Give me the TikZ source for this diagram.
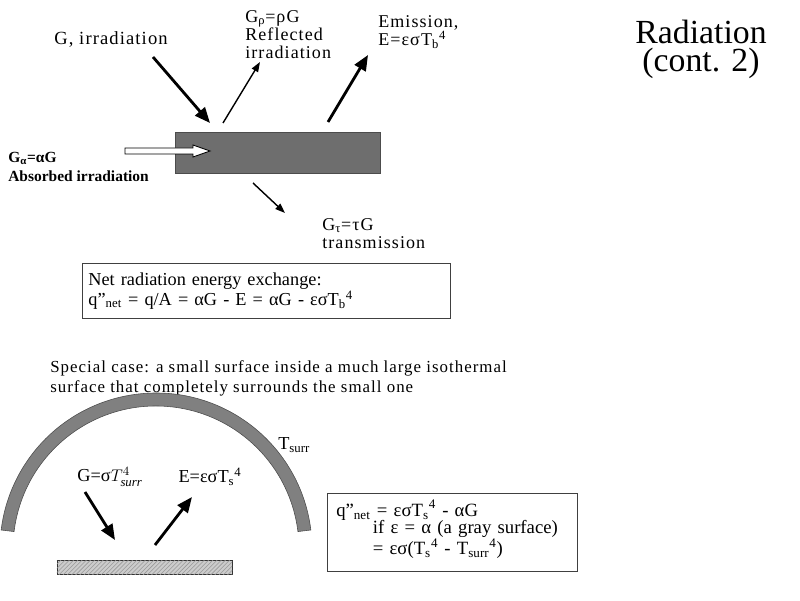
\documentclass[tikz,border=0pt]{standalone}
\usepackage{fontspec}
\setmainfont{Liberation Serif}
\newfontfamily\widefont{Liberation Serif}[LetterSpace=6]
\usetikzlibrary{arrows.meta,patterns}

\tikzset{
  txt/.style={font=\fontsize{13}{13}\selectfont, align=left, inner sep=0pt},
  widetxt/.style={txt, font=\widefont\fontsize{12.8}{12.8}\selectfont},
  boldtxt/.style={txt, font=\fontsize{11}{13.5}\selectfont\bfseries},
  bigarrow/.style={line width=2pt, -{Triangle[length=11pt,width=9pt]}},
  thinarrow/.style={line width=1pt, -{Triangle[length=7pt,width=5pt]}},
  netbox/.style={draw=black!75, line width=0.6pt},
}

\begin{document}
\begin{tikzpicture}[x=0.025cm,y=0.025cm]

  % page frame, 800 x 600
  \useasboundingbox (0,0) rectangle (800,600);

  % title
  \node (title) [font=\fontsize{24}{21}\selectfont] at (701,568) {Radiation};
  \node (cont) [font=\fontsize{24}{21}\selectfont] at (701,537) {(cont. 2)};

  % the slab
  \node (slab) [draw=black!70, fill=black!57, minimum width=5.125cm, minimum height=1.025cm,
    inner sep=0pt] at (277.5,447.5) {};

  % labels round the slab
  \node (irr) [widetxt, font=\widefont\fontsize{13.2}{13}\selectfont] at (111,561) {G, irradiation};
  \node (refl) [widetxt, anchor=north west] at (245,590)
    {G\textsubscript{ρ}=ρG\\Reflected\\irradiation};
  \node (emis) [widetxt, anchor=north west] at (378,585)
    {Emission,\\E=εσT\textsubscript{b}\textsuperscript{4}};
  \node (absb) [boldtxt, anchor=north west] at (8,448)
    {G\textsubscript{α}=αG\\Absorbed irradiation};
  \node (trans) [widetxt, anchor=north west] at (322,382)
    {G\textsubscript{τ}=τG\\transmission};

  % arrow ends
  \coordinate (irr tail) at (153,543);
  \coordinate (irr head) at (210,477);
  \coordinate (refl tail) at (223,477);
  \coordinate (refl head) at (260,538);
  \coordinate (emis tail) at (328,478);
  \coordinate (emis head) at (368,545);
  \coordinate (trans tail) at (253,417);
  \coordinate (trans head) at (285,387);

  \draw [bigarrow] (irr tail) -- (irr head);
  \draw [thinarrow] (refl tail) -- (refl head);
  \draw [bigarrow] (emis tail) -- (emis head);
  \draw [thinarrow] (trans tail) -- (trans head);

  % hollow arrow for the absorbed part
  \draw [fill=white, line width=0.6pt] (125,452) -- (193,452) -- (193,455) -- (210,449)
    -- (193,443) -- (193,446) -- (125,446) -- cycle;

  % net exchange box
  \node (net) [netbox, txt, anchor=north west, text width=8.9cm, inner xsep=0.15cm,
    minimum height=1.375cm] at (82,337)
    {Net radiation energy exchange:\\
     q"\textsubscript{net} = q/A = αG - E = αG - εσT\textsubscript{b}\textsuperscript{4}};

  % special case
  \node (spec) [widetxt, font=\widefont\fontsize{12}{14.2}\selectfont, anchor=north west] at (50,240)
    {Special case: a small surface inside a much large isothermal\\
     surface that completely surrounds the small one};

  % surrounding surface
  \draw [draw=black!70, fill=black!50] ([shift={(7:156)}]156,51) arc [start angle=7, end angle=173, radius=156]
    -- ([shift={(173:143)}]156,51) arc [start angle=173, end angle=7, radius=143] -- cycle;
  \node (tsurr) [txt, anchor=west] at (278,155) {T\textsubscript{surr}};

  % small surface
  \node (plate) [draw=black!80, fill=black!20, postaction={pattern=north east lines, pattern color=black!40},
    minimum width=4.375cm, minimum height=0.35cm, inner sep=0pt] at (144.5,33) {};

  \node (gsurr) [txt] at (110,123) {G=σ$T^{4}_{\mathit{surr}}$};
  \node (es) [txt] at (210,123) {E=εσT\textsubscript{s}\textsuperscript{4}};

  \coordinate (g tail) at (85,108);
  \coordinate (g head) at (115,60);
  \coordinate (e tail) at (155,55);
  \coordinate (e head) at (192,103);
  \draw [bigarrow] (g tail) -- (g head);
  \draw [bigarrow] (e tail) -- (e head);

  % gray surface box
  \node (qbox) [netbox, anchor=north west, minimum width=6.25cm, minimum height=1.95cm,
    inner sep=0pt] at (327,107) {};
  \node (qtext) [txt, font=\fontsize{13.3}{12}\selectfont, text width=5.8cm,
    anchor=north west] at ([shift={(9,-7)}]qbox.north west)
    {\lineskiplimit=-20pt
     q"\textsubscript{net} = εσT\textsubscript{s}\textsuperscript{4} - αG\\
     \hspace*{26pt}if ε = α (a gray surface)\\
     \hspace*{26pt}= εσ(T\textsubscript{s}\textsuperscript{4} - T\textsubscript{surr}\textsuperscript{4})};

\end{tikzpicture}
\end{document}
